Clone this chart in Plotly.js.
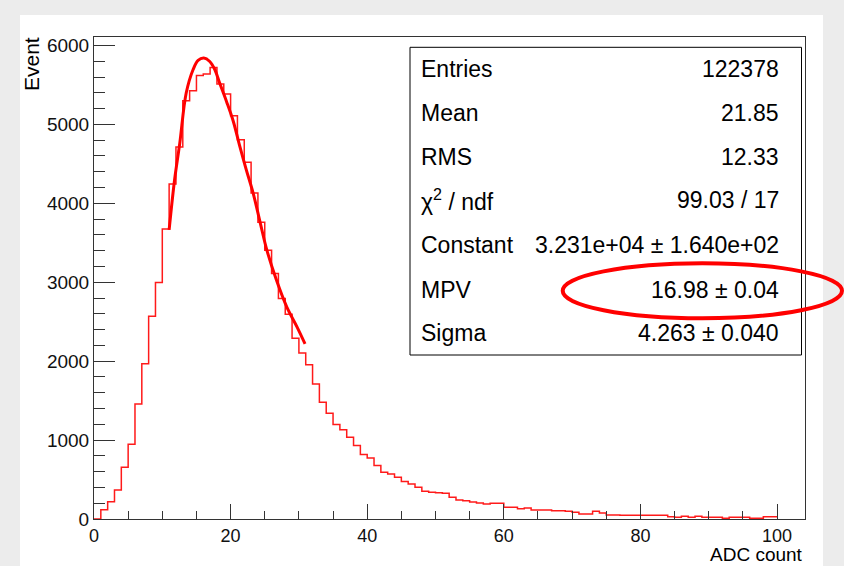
<!DOCTYPE html>
<html>
<head>
<meta charset="utf-8">
<script src="https://cdn.plot.ly/plotly-3.0.1.min.js"></script>
<style>html,body{margin:0;padding:0;background:#ececec;}#chart{width:844px;height:566px;}</style>
</head>
<body>
<div id="chart"></div>
<script>
// Histogram: 100 bins of width 1 from 0 to 100 (ADC count)
const binStart = 0;
const binWidth = 1;
const counts = [
  0, 118, 220, 368, 656, 948, 1456, 1968, 2569, 2996,
  3673, 4244, 4713, 5300, 5426, 5620, 5637, 5721, 5510, 5384,
  5110, 4806, 4519, 4131, 3759, 3405, 3110, 2794, 2595, 2291,
  2102, 1955, 1709, 1480, 1341, 1197, 1130, 1036, 930, 816,
  774, 677, 592, 571, 528, 474, 444, 401, 351, 338,
  334, 325, 275, 241, 232, 216, 203, 190, 198, 198,
  148, 148, 129, 140, 114, 114, 114, 106, 106, 97,
  85, 63, 63, 97, 76, 51, 51, 47, 47, 47,
  47, 47, 47, 47, 30, 21, 34, 21, 34, 21,
  21, 21, 8, 21, 21, 21, 8, 8, 30, 30
];
// Landau fit curve
const fitX = [11.0, 11.8, 12.56, 13.5, 14.5, 15.24, 16.08, 16.95, 17.7, 18.4, 19.4, 20.4, 21.35, 22.3, 23.3, 24.4, 25.3, 26.7, 28.2, 29.7, 30.9];
const fitY = [3664, 4298, 4763, 5397, 5692, 5810, 5840, 5797, 5692, 5523, 5290, 5037, 4720, 4424, 4129, 3730, 3410, 3030, 2691, 2438, 2219];
// Statistics box
const statLabels = ["Entries", "Mean", "RMS", "χ<sup>2</sup> / ndf", "Constant", "MPV", "Sigma"];
const statValues = ["122378", "21.85", "12.33", "99.03 / 17", "3.231e+04 ± 1.640e+02", "16.98 ± 0.04", "4.263 ± 0.040"];
const xTitle = "ADC count";
const yTitle = "Event";

const hx = [], hy = [];
for (let i = 0; i < counts.length; i++) { hx.push(binStart + i * binWidth); hy.push(counts[i]); }
hx.push(binStart + counts.length * binWidth); hy.push(counts[counts.length - 1]);

const FONT = "Liberation Sans, Arial, Helvetica, sans-serif";
const L = 94, R = 805, T = 37, B = 519;
const px = v => (v - L) / (R - L);
const py = v => (B - v) / (B - T);

const traces = [
  { x: hx, y: hy, type: "scatter", mode: "lines", line: { shape: "hv", color: "#ff1a1a", width: 1.5 }, hoverinfo: "skip" },
  { x: fitX, y: fitY, type: "scatter", mode: "lines", line: { shape: "spline", color: "#ff0000", width: 3 }, hoverinfo: "skip" }
];

const rowCenters = [69, 113, 157, 200, 245, 290, 333];
const annotations = [];
statLabels.forEach((t, i) => {
  annotations.push({ xref: "paper", yref: "paper", x: px(419), y: py(rowCenters[i]), xanchor: "left", yanchor: "middle", text: t, showarrow: false, font: { family: FONT, size: 23, color: "#000" } });
  annotations.push({ xref: "paper", yref: "paper", x: px(781), y: py(rowCenters[i]), xanchor: "right", yanchor: "middle", text: statValues[i], showarrow: false, font: { family: FONT, size: 23, color: "#000" } });
});
annotations.push({ xref: "paper", yref: "paper", x: px(804), y: py(566), xanchor: "right", yanchor: "bottom", borderpad: 0, text: xTitle, showarrow: false, font: { family: FONT, size: 19, color: "#000" } });
annotations.push({ xref: "paper", yref: "paper", x: px(31), y: py(64), xanchor: "center", yanchor: "middle", text: yTitle, textangle: -90, showarrow: false, font: { family: FONT, size: 21, color: "#000" } });

const shapes = [
  { type: "rect", xref: "paper", yref: "paper", x0: px(20), x1: px(823), y0: py(570), y1: py(15), fillcolor: "#ffffff", line: { width: 0 }, layer: "below" },
  { type: "rect", xref: "paper", yref: "paper", x0: px(410), x1: px(801.5), y0: py(355), y1: py(47.3), fillcolor: "#ffffff", line: { color: "#000", width: 1 }, layer: "above" },
  { type: "circle", xref: "paper", yref: "paper", x0: px(562.7), x1: px(842), y0: py(318.3), y1: py(263.3), line: { color: "#ff0000", width: 4 }, layer: "above" }
];

const layout = {
  width: 844, height: 566,
  margin: { l: L, r: 844 - R, t: T, b: 566 - B, pad: 0 },
  paper_bgcolor: "#ececec", plot_bgcolor: "#ffffff",
  showlegend: false,
  font: { family: FONT, size: 19, color: "#000" },
  xaxis: {
    range: [0, 104.1], tick0: 0, dtick: 20, ticks: "inside", ticklen: 15, tickcolor: "#333", tickwidth: 1,
    minor: { dtick: 5, ticks: "inside", ticklen: 8, tickcolor: "#333", tickwidth: 1 },
    showgrid: false, zeroline: false, showline: true, linecolor: "#333", linewidth: 1, mirror: true,
    tickfont: { family: FONT, size: 18, color: "#111" }
  },
  yaxis: {
    range: [0, 6107], tick0: 0, dtick: 1000, ticks: "inside", ticklen: 21, tickcolor: "#333", tickwidth: 1,
    minor: { dtick: 200, ticks: "inside", ticklen: 11, tickcolor: "#333", tickwidth: 1 },
    showgrid: false, zeroline: false, showline: true, linecolor: "#333", linewidth: 1, mirror: true,
    tickfont: { family: FONT, size: 19, color: "#111" }
  },
  shapes: shapes,
  annotations: annotations
};

Plotly.newPlot("chart", traces, layout, { staticPlot: true, displayModeBar: false });
</script>
</body>
</html>
